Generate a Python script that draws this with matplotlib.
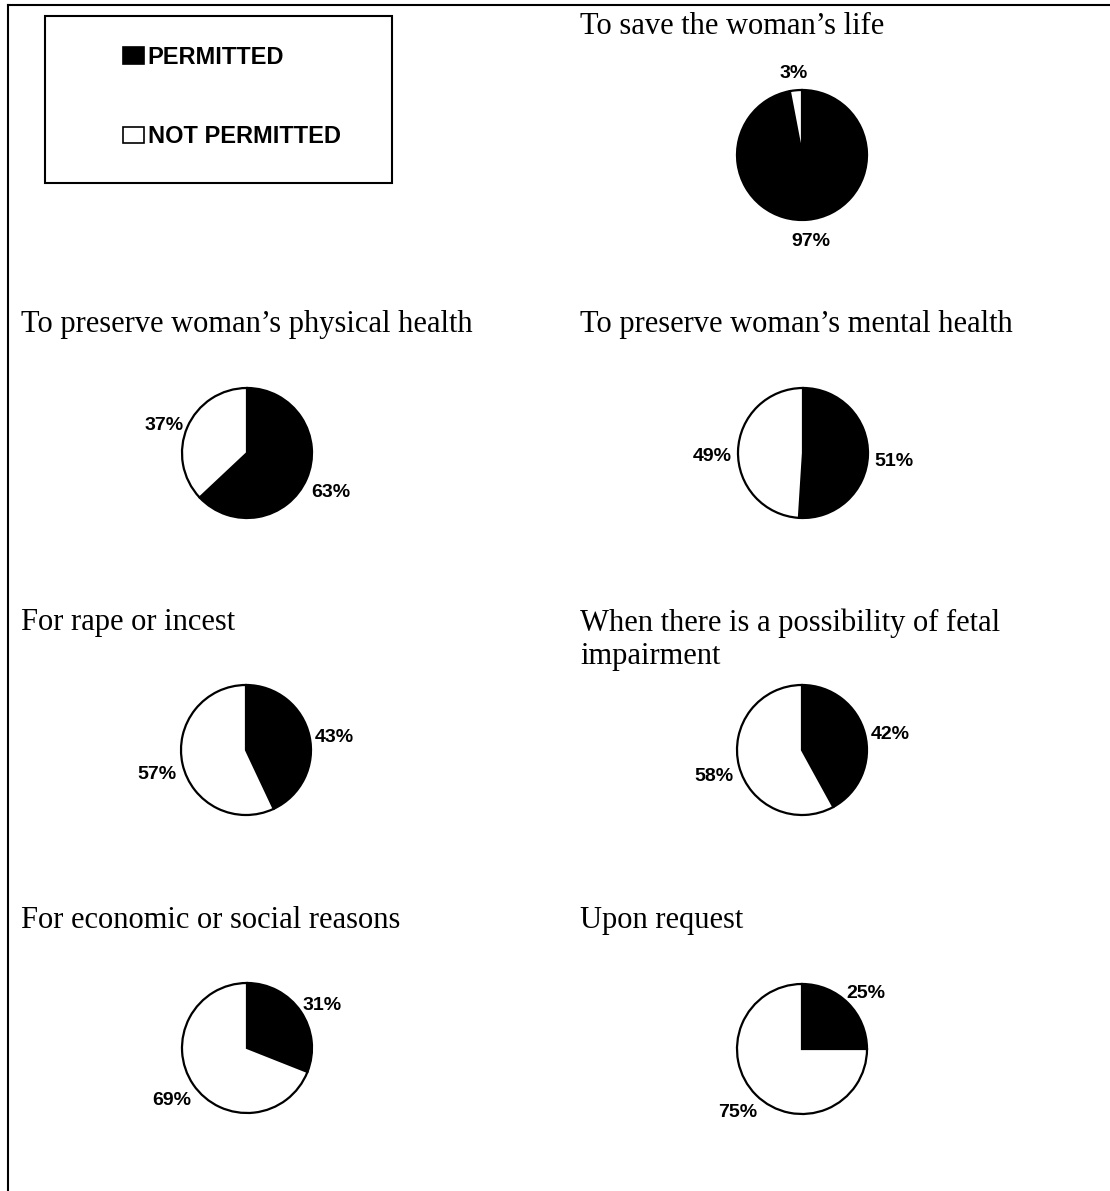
import numpy as np
import matplotlib
matplotlib.use('Agg')
import matplotlib.pyplot as plt
from matplotlib.patches import Patch, Rectangle
from matplotlib.lines import Line2D

# data
titles = ["To save the woman\u2019s life",
          "To preserve woman\u2019s physical health",
          "To preserve woman\u2019s mental health",
          "For rape or incest",
          "When there is a possibility of fetal\nimpairment",
          "For economic or social reasons",
          "Upon request"]
permitted = [97, 63, 51, 43, 42, 31, 25]
not_permitted = [3, 37, 49, 57, 58, 69, 75]
legend_labels = ["PERMITTED", "NOT PERMITTED"]

W, H = 1110, 1191
fig = plt.figure(figsize=(W / 100, H / 100), dpi=100)

# layout in pixels (pie centres, title positions)
pie_centres = [(802, 155), (247, 453), (803, 453), (246, 750), (802, 750), (247, 1048), (802, 1049)]
title_pos = [(580, 34), (21, 332), (580, 332), (21, 630), (580, 664), (21, 928), (580, 928)]
radius = 65
half = 100

serif = 'Liberation Serif'
sans = ['Liberation Sans', 'DejaVu Sans']

for i in range(len(titles)):
    cx, cy = pie_centres[i]
    ax = fig.add_axes([(cx - half) / W, 1 - (cy + half) / H, 2 * half / W, 2 * half / H])
    vals = [permitted[i], not_permitted[i]]
    wedges, _ = ax.pie(vals, colors=['black', 'white'], startangle=90, counterclock=False,
                       wedgeprops=dict(edgecolor='black', linewidth=1.6))
    lim = half / radius
    ax.set_xlim(-lim, lim)
    ax.set_ylim(-lim, lim)
    ax.set_aspect('equal')
    ax.axis('off')
    for w, v in zip(wedges, vals):
        ang = np.deg2rad((w.theta1 + w.theta2) / 2)
        c, s = np.cos(ang), np.sin(ang)
        lab = f"{v}%"
        tw = len(lab) * 9.3
        th = 18.5
        ax.annotate(lab, xy=(1.1 * c, 1.1 * s), xytext=(tw / 2 * c, th / 2 * s - 3 * c ** 2),
                    textcoords='offset points', ha='center', va='center_baseline',
                    fontsize=14, fontweight='bold', family=sans)
    tx, ty = title_pos[i]
    fig.text(tx / W, 1 - ty / H, titles[i], ha='left', va='baseline',
             fontsize=22, family=serif, linespacing=1.17)

# legend box
fig.patches.append(Rectangle((45 / W, 1 - 183 / H), 347 / W, 167 / H, transform=fig.transFigure,
                             fill=False, edgecolor='black', linewidth=1.5))
handles = [Patch(facecolor='black', edgecolor='black', linewidth=1.2),
           Patch(facecolor='white', edgecolor='black', linewidth=1.2)]
fig.legend(handles, legend_labels, loc='center left', bbox_to_anchor=(111 / W, 1 - 97 / H),
           frameon=False, borderpad=0, handlelength=0.9, handleheight=0.72,
           handletextpad=0.15, labelspacing=2.4,
           prop=dict(family=sans, weight='bold', size=17))

# page frame
fig.add_artist(Line2D([8 / W, 1], [1 - 5 / H, 1 - 5 / H], transform=fig.transFigure, color='black', lw=1.5))
fig.add_artist(Line2D([8 / W, 8 / W], [0, 1 - 5 / H], transform=fig.transFigure, color='black', lw=1.5))

fig.savefig('out.png', dpi=100, facecolor='white')
